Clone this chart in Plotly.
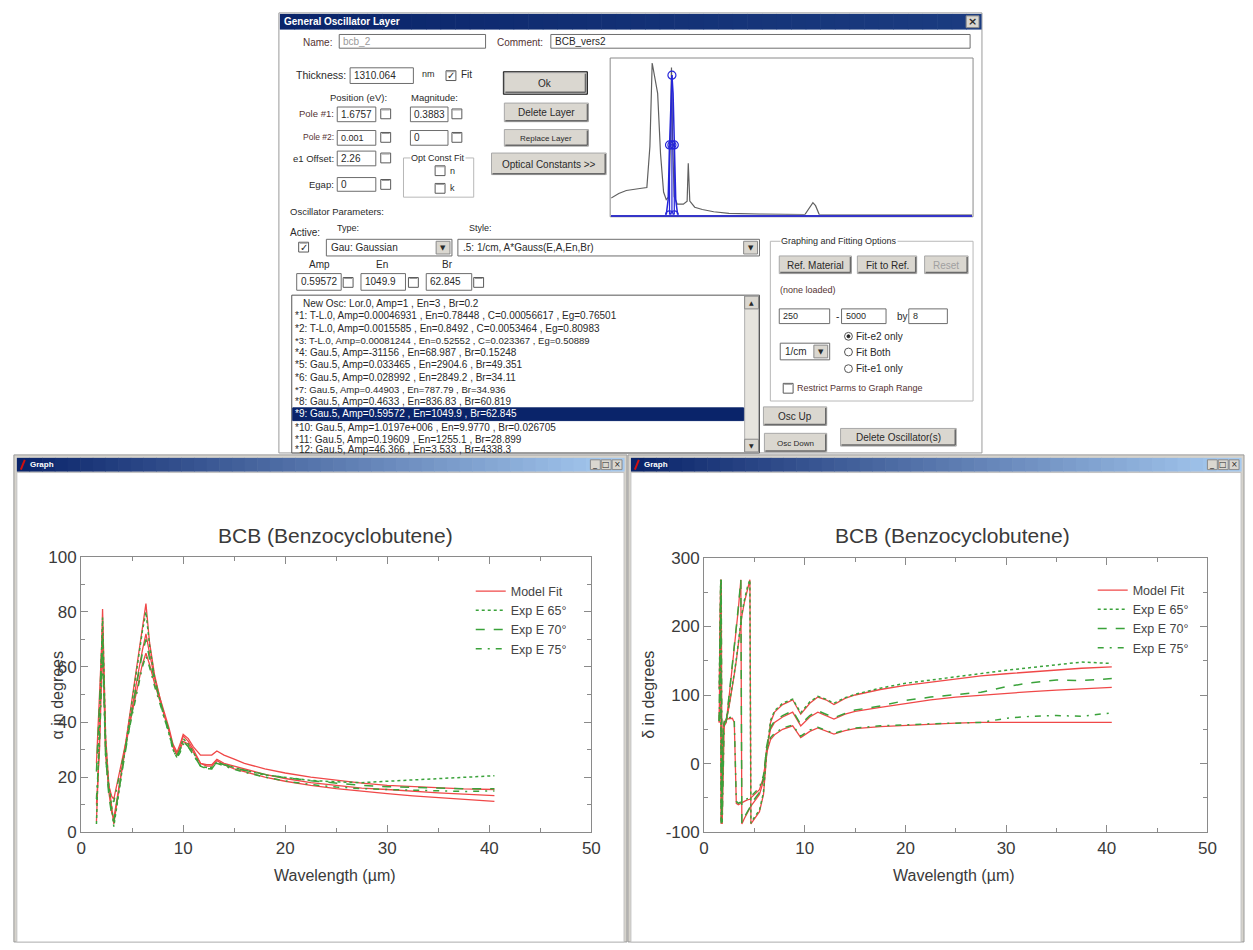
import plotly.graph_objects as go

# ---------------- data ----------------
# Psi (alpha) spectra, wavelength in micrometres
wl_psi = [1.5, 1.8, 2.1, 2.4, 2.7, 3.0, 3.2, 3.6, 4.0, 4.5, 5.0, 5.5, 6.0, 6.35,
          6.7, 7.2, 7.7, 8.1, 8.6, 9.0, 9.4, 9.7, 10.0, 10.5, 11.0, 11.7, 12.3,
          12.8, 13.3, 14.0, 15.0, 16.0, 18.0, 20.0, 22.5, 25.0, 27.5, 30.0, 32.5,
          35.0, 37.5, 40.5]
psi_fit_65 = [4, 35, 81, 35, 18, 10, 3, 13, 23, 36, 49, 62, 74, 83, 69, 57, 49, 43, 37, 31, 28,
              31, 35, 33, 30, 25, 24.5, 24.5, 26.5, 25, 24, 23, 21, 19.5, 18, 17, 16, 15.5,
              14.8, 14.3, 13.8, 13.3]
psi_fit_70 = [25, 50, 75, 30, 15, 7, 5, 14, 23, 34, 45, 56, 66, 72, 65, 56, 49, 44, 38, 32, 29,
              32, 35.5, 34, 31, 28, 28, 28, 29.5, 28, 26.5, 25, 23, 21.5, 20, 18.8, 17.8, 17,
              16.5, 16, 15.7, 15.5]
psi_fit_75 = [10, 30, 68, 28, 17, 13, 12, 19, 26, 35, 44, 53, 61, 65, 61, 54, 48, 43, 37, 31, 28,
              30, 33, 32, 29, 25, 24, 24, 26, 24.5, 23, 22, 20, 18.5, 17, 15.8, 14.8, 14, 13.2,
              12.5, 11.8, 11.2]
psi_exp_65 = [3, 38, 78, 33, 17, 9, 2, 12, 22, 35, 48, 61, 73, 80, 68, 56, 48, 42, 36, 30, 27,
              30, 34, 32, 29, 24, 23.5, 23.5, 25.5, 24.5, 23.5, 22.5, 20.8, 19.8, 18.8, 18.3,
              18, 18.5, 19, 19.3, 19.8, 20.5]
psi_exp_70 = [22, 48, 72, 28, 14, 6, 4, 13, 22, 33, 44, 55, 65, 70, 63, 55, 48, 43, 37, 31, 28,
              30, 33, 31, 28, 24, 23, 23, 25.5, 24.5, 23.5, 22.5, 21, 19.8, 18.7, 17.8, 17,
              16.5, 16.2, 16, 15.8, 15.8]
psi_exp_75 = [12, 32, 66, 27, 16, 12, 11, 18, 25, 34, 43, 52, 60, 64, 60, 53, 47, 42, 36, 30, 27,
              29, 32, 31, 28, 24, 23, 23, 25, 24, 22.8, 21.8, 20, 18.6, 17.3, 16.4, 15.8, 15.5,
              15.2, 15, 14.8, 15]

# Delta spectra (phase wraps at 270 -> -90)
wl_del = [1.5, 1.6, 1.65, 1.7, 1.8, 1.85, 1.9, 2.0, 2.2, 2.5, 2.8, 3.0, 3.2, 3.4, 3.65,
          3.75, 4.0, 4.3, 4.55, 4.65, 5.0, 5.5, 5.9, 6.2, 6.6, 7.0, 7.8, 8.8, 9.6, 10.5,
          11.3, 12.1, 12.9, 14.0, 15.0, 17.5, 20.0, 22.5, 25.0, 27.5, 30.0, 32.5, 35.0,
          37.5, 40.5]
del_fit_65 = [110, 200, 268, -85, -40, 20, 55, 60, 62, 85, 110, 130, 150, 175, 205, 215, 235,
              255, 268, -88, -80, -70, -45, 10, 60, 75, 86, 93, 72, 88, 97, 93, 86, 95, 100,
              108, 114, 119, 124, 128, 131, 134, 137, 139, 141]
del_fit_70 = [60, 180, 268, -88, -50, 0, 40, 55, 60, 100, 140, 170, 195, 225, 268, -88, -80,
              -72, -65, -62, -55, -45, -25, 20, 50, 60, 68, 75, 55, 68, 75, 70, 65, 72, 76,
              82, 88, 93, 97, 100, 103, 105, 107, 109, 111]
del_fit_75 = [60, 120, 200, 268, -88, -40, 30, 60, 65, 65, 66, 60, -58, -60, -58, -56, -55,
              -53, -52, -50, -45, -38, -20, 15, 35, 42, 50, 55, 38, 47, 52, 47, 43, 48, 51,
              54, 56, 58, 59, 60, 60, 60, 60, 60, 60]
del_exp_65 = [108, 205, 268, -86, -42, 18, 52, 58, 63, 87, 112, 132, 152, 178, 207, 218, 238,
              257, 268, -87, -78, -68, -42, 14, 63, 77, 88, 94, 74, 90, 98, 94, 88, 96, 101,
              110, 117, 122, 127, 131, 136, 140, 144, 148, 146]
del_exp_70 = [62, 185, 268, -87, -48, 3, 43, 57, 62, 102, 142, 172, 197, 228, 268, -87, -78,
              -70, -63, -60, -52, -42, -22, 24, 53, 62, 70, 77, 57, 70, 77, 72, 67, 73, 78,
              84, 92, 97, 101, 104, 112, 118, 122, 121, 124]
del_exp_75 = [62, 125, 205, 268, -86, -38, 33, 62, 66, 67, 68, 62, -55, -58, -56, -54, -53,
              -51, -50, -48, -43, -35, -17, 18, 38, 44, 52, 56, 40, 49, 53, 48, 44, 49, 52,
              55, 57, 58, 59, 60, 66, 69, 70, 69, 74]

delta_ticks = [-100, 0, 100, 200, 300]
delta_tick_text = ["-100", "0", "100", "200", "300"]

# oscillator preview (wavenumber 1/cm, relative eps2)
spec_wn = [250, 350, 450, 550, 650, 720, 760, 790, 805, 830, 862, 900, 940, 975, 1010, 1030,
           1044, 1058, 1080, 1120, 1200, 1250, 1265, 1285, 1350, 1450, 1600, 1800, 2200,
           2800, 2870, 2905, 2940, 2990, 5000]
spec_val = [0.11, 0.14, 0.16, 0.17, 0.175, 0.18, 0.45, 1.0, 0.96, 0.88, 0.8, 0.4, 0.15, 0.1,
            0.12, 0.5, 0.97, 0.5, 0.12, 0.07, 0.07, 0.09, 0.34, 0.09, 0.05, 0.035, 0.02,
            0.01, 0.004, 0.002, 0.06, 0.08, 0.06, 0.0, 0.0]
osc_wn = [975, 1000, 1018, 1035, 1049.9, 1065, 1081, 1100, 1125]
osc_val = [0.0, 0.1, 0.45, 0.8, 0.92, 0.8, 0.45, 0.1, 0.0]
osc_handle_wn = [1049.9, 1018, 1049.9, 1081, 1018, 1081]
osc_handle_val = [0.92, 0.46, 0.46, 0.46, 0.0, 0.0]
osc_guide_wn = [1018, 1018, None, 1081, 1081, None, 1049.9, 1049.9, None, 1018, 1081]
osc_guide_val = [0, 0.46, None, 0, 0.46, None, 0, 0.92, None, 0.46, 0.46]

osc_rows = [
    "New Osc: Lor.0, Amp=1 , En=3 , Br=0.2",
    "*1: T-L.0, Amp=0.00046931 , En=0.78448 , C=0.00056617 , Eg=0.76501",
    "*2: T-L.0, Amp=0.0015585 , En=0.8492 , C=0.0053464 , Eg=0.80983",
    "*3: T-L.0, Amp=0.00081244 , En=0.52552 , C=0.023367 , Eg=0.50889",
    "*4: Gau.5, Amp=-31156 , En=68.987 , Br=0.15248",
    "*5: Gau.5, Amp=0.033465 , En=2904.6 , Br=49.351",
    "*6: Gau.5, Amp=0.028992 , En=2849.2 , Br=34.11",
    "*7: Gau.5, Amp=0.44903 , En=787.79 , Br=34.936",
    "*8: Gau.5, Amp=0.4633 , En=836.83 , Br=60.819",
    "*9: Gau.5, Amp=0.59572 , En=1049.9 , Br=62.845",
    "*10: Gau.5, Amp=1.0197e+006 , En=9.9770 , Br=0.026705",
    "*11: Gau.5, Amp=0.19609 , En=1255.1 , Br=28.899",
    "*12: Gau.5, Amp=46.366 , En=3.533 , Br=4338.3",
]

# ---------------- page helpers (pixel -> paper) ----------------
W, H = 1253, 950
UI = "Liberation Sans"
FONT = "Liberation Sans"


def fx(x):
    return x / W


def fy(y):
    return 1 - y / H


shapes, notes = [], []


def rect(x0, y0, x1, y1, fill="white", line="#808080", lw=1, layer="below"):
    shapes.append(dict(type="rect", xref="paper", yref="paper",
                       x0=fx(x0), x1=fx(x1), y0=fy(y1), y1=fy(y0),
                       fillcolor=fill, line=dict(color=line, width=lw), layer=layer))


def seg(x0, y0, x1, y1, color="#808080", lw=1, layer="below"):
    shapes.append(dict(type="line", xref="paper", yref="paper",
                       x0=fx(x0), x1=fx(x1), y0=fy(y0), y1=fy(y1),
                       line=dict(color=color, width=lw), layer=layer))


def circ(x0, y0, x1, y1, fill="white", line="#555", lw=1):
    shapes.append(dict(type="circle", xref="paper", yref="paper",
                       x0=fx(x0), x1=fx(x1), y0=fy(y1), y1=fy(y0),
                       fillcolor=fill, line=dict(color=line, width=lw), layer="below"))


def label(x, y, s, size=10, color="#2a2a2a", anchor="left", bold=False, family=UI,
          bg=None, angle=0):
    if bold:
        s = "<b>" + s + "</b>"
    d = dict(xref="paper", yref="paper", x=fx(x), y=fy(y), text=s, showarrow=False,
             xanchor=anchor, yanchor="middle", borderpad=0, textangle=angle,
             font=dict(size=size, color=color, family=family))
    if bg:
        d["bgcolor"] = bg
    notes.append(d)


def mix(c0, c1, t):
    a = [int(c0[i:i + 2], 16) for i in (1, 3, 5)]
    b = [int(c1[i:i + 2], 16) for i in (1, 3, 5)]
    return "#%02x%02x%02x" % tuple(round(a[k] + (b[k] - a[k]) * t) for k in range(3))


def hgrad(x0, y0, x1, y1, c0, c1, n=48):
    step = (x1 - x0) / n
    for i in range(n):
        col = mix(c0, c1, i / (n - 1))
        shapes.append(dict(type="rect", xref="paper", yref="paper",
                           x0=fx(x0 + i * step), x1=fx(x0 + (i + 1) * step + 0.6),
                           y0=fy(y1), y1=fy(y0), fillcolor=col,
                           line=dict(width=0), layer="below"))


def button(x0, y0, x1, y1, s, size=10, color="#2a2a2a", strong=False):
    if strong:
        rect(x0 - 1, y0 - 1, x1 + 1, y1 + 1, fill="#333333", line="#222222")
    rect(x0, y0, x1, y1, fill="#DAD7D0", line="#A8A8A8")
    seg(x0 + 1, y1 - 1, x1 - 1, y1 - 1, "#6a6a6a", 1.5)
    seg(x1 - 1, y0 + 1, x1 - 1, y1 - 1, "#6a6a6a", 1.5)
    label((x0 + x1) / 2, (y0 + y1) / 2 + 0.5, s, size, color, anchor="center")


def field(x0, y0, x1, y1, s, color="#2a2a2a", size=10):
    rect(x0, y0, x1, y1, fill="white", line="#6d6d6d")
    label(x0 + 3, (y0 + y1) / 2, s, size, color)


def check(x, y, on=False):
    rect(x, y, x + 10, y + 10, fill="white", line="#5a5a5a")
    seg(x + 1, y + 1, x + 9, y + 1, "#9a9a9a")
    if on:
        label(x + 5, y + 5, "✓", size=10, anchor="center", bold=True, family="DejaVu Sans")


def combo(x0, y0, x1, y1, s):
    rect(x0, y0, x1, y1, fill="white", line="#6d6d6d")
    rect(x1 - 16, y0 + 2, x1 - 2, y1 - 2, fill="#DAD7D0", line="#8a8a8a")
    label(x1 - 9, (y0 + y1) / 2, "▼", size=7, anchor="center", family="DejaVu Sans")
    label(x0 + 4, (y0 + y1) / 2, s)


def radio(x, y, s, on=False):
    circ(x - 4, y - 4, x + 4, y + 4)
    if on:
        circ(x - 1.5, y - 1.5, x + 1.5, y + 1.5, fill="#222", line="#222")
    label(x + 7, y, s, size=10)


def group(x0, y0, x1, y1, title, tx):
    rect(x0, y0, x1, y1, fill="rgba(0,0,0,0)", line="#b8b8b8")
    label(tx, y0, title, size=9, bg="white")


# ---------------- oscillator dialog ----------------
rect(277, 4, 988, 453, fill="white", line="#9a9a9a")
hgrad(278, 5, 987, 21, "#0a246a", "#1b3c80")
label(281, 13, "General Oscillator Layer", size=10, color="white", bold=True)
rect(972, 7, 985, 19, fill="#DAD7D0", line="#888")
label(978.5, 13, "×", size=11, anchor="center", bold=True, family="DejaVu Sans")

label(300, 34, "Name:", color="#553333")
field(338, 26, 486, 40, "bcb_2", color="#9a9a9a")
label(497, 34, "Comment:", color="#553333")
field(552, 26, 976, 40, "BCB_vers2")

label(346, 67, "Thickness:", size=10.5, anchor="right")
field(349, 60, 413, 76, "1310.064")
label(421, 66, "nm", size=9)
check(446, 63, on=True)
label(460, 67, "Fit", size=10)

label(328, 90, "Position (eV):", size=9.5)
label(410, 90, "Magnitude:", size=9.5)
label(334, 107, "Pole #1:", size=9.5, color="#553333", anchor="right")
field(336, 100, 375, 115, "1.6757")
check(380, 102)
field(410, 100, 448, 115, "0.3883")
check(452, 102)
label(334, 131, "Pole #2:", size=8.5, color="#553333", anchor="right")
field(336, 124, 375, 139, "0.001", size=9)
check(380, 126)
field(410, 124, 448, 139, "0")
check(452, 126)
label(334, 153, "e1 Offset:", size=9.5, anchor="right")
field(336, 145, 375, 160, "2.26")
check(380, 147)
label(334, 179, "Egap:", size=9.5, anchor="right")
field(336, 172, 375, 186, "0")
check(380, 174)
group(403, 152, 474, 192, "Opt Const Fit", 410)
check(435, 160, False)
label(449, 165, "n", size=9)
check(435, 178, False)
label(449, 183, "k", size=9)
label(287, 207, "Oscillator Parameters:", size=9.5)

button(505, 65, 588, 86, "Ok", strong=True)
button(505, 96, 590, 115, "Delete Layer")
button(505, 123, 590, 140, "Replace Layer", size=8)
button(492, 147, 608, 169, "Optical Constants >>")

# preview panel frame
rect(612, 50, 979, 212, fill="white", line="#8a8a8a")

label(287, 228, "Active:")
label(335, 223, "Type:", size=9)
label(468, 223, "Style:", size=9)
check(297, 238, on=True)
combo(325, 235, 452, 252, "Gau: Gaussian")
combo(458, 235, 763, 252, ".5: 1/cm, A*Gauss(E,A,En,Br)")
label(318, 261, "Amp", anchor="center")
label(381, 261, "En", anchor="center")
label(448, 261, "Br", anchor="center")
field(295, 270, 340, 287, "0.59572")
check(342, 274)
field(360, 270, 405, 287, "1049.9")
check(408, 274)
field(426, 270, 472, 287, "62.845")
check(474, 274)

# oscillator list box
rect(290, 292, 763, 453, fill="white", line="#555")
rect(748, 293, 762, 452, fill="#e6e4de", line="#b0b0b0")
rect(748, 293, 762, 306, fill="#DAD7D0", line="#8a8a8a")
label(755, 299.5, "▲", size=6, anchor="center", family="DejaVu Sans")
rect(748, 439, 762, 452, fill="#DAD7D0", line="#8a8a8a")
label(755, 445.5, "▼", size=6, anchor="center", family="DejaVu Sans")
rect(291, 407, 747, 420, fill="#0a246a", line="#0a246a")
row_y = [300, 313, 326, 338, 350, 363, 376, 388, 401, 413, 427, 439, 450]
row_size = [10, 10, 10, 9.5, 10, 10, 10, 9.5, 10, 10, 10, 10, 10]
for i, (txt, yy) in enumerate(zip(osc_rows, row_y)):
    xx = 300 if i == 0 else 292
    col = "white" if i == 9 else "#2a2a2a"
    label(xx, yy, txt, size=row_size[i], color=col)

group(774, 237, 979, 400, "Graphing and Fitting Options", 784)
button(783, 252, 856, 270, "Ref. Material")
button(862, 252, 922, 270, "Fit to Ref.")
button(930, 252, 974, 270, "Reset", color="#a0a0a0")
label(783, 287, "(none loaded)", size=9, color="#553333")
field(783, 306, 834, 321, "250", size=9)
label(839, 314, "-")
field(846, 306, 891, 321, "5000", size=9)
label(901, 314, "by")
field(914, 306, 953, 321, "8", size=9)
radio(853, 334, "Fit-e2 only", on=True)
radio(853, 350, "Fit Both")
radio(853, 367, "Fit-e1 only")
combo(784, 341, 834, 358, "1/cm")
check(787, 382)
label(800, 387, "Restrict Parms to Graph Range", size=9, color="#553333")
button(767, 406, 831, 425, "Osc Up")
button(768, 433, 831, 452, "Osc Down", size=8)
button(845, 428, 962, 446, "Delete Oscillator(s)")


# ---------------- graph windows ----------------
def window(x0, x1):
    rect(x0, 455, x1, 952, fill="#D6D3CC", line="#9a9a9a")
    rect(x0 + 3, 473, x1 - 3, 952, fill="white", line="#c4c4c4")
    hgrad(x0 + 3, 458, x1 - 3, 472, "#0a246a", "#a6caf0")
    seg(x0 + 7, 470, x0 + 11, 460, "#d01010", 2)
    label(x0 + 15, 465, "Graph", size=8, color="white", bold=True)
    for k, sym in enumerate(["_", "□", "×"]):
        bx = x1 - 37 + k * 11
        rect(bx, 460, bx + 10, 470, fill="#DAD7D0", line="#8a8a8a")
        label(bx + 5, 465, sym, size=8, anchor="center", family="DejaVu Sans")


window(9, 629)
window(630, 1253)

# chart titles and axis titles
TXT = "#3a3a3a"
label(334, 537, "BCB (Benzocyclobutene)", size=21, color=TXT, anchor="center", family=FONT)
label(958, 537, "BCB (Benzocyclobutene)", size=21, color=TXT, anchor="center", family=FONT)
label(334, 884, "Wavelength (µm)", size=16, color=TXT, anchor="center", family=FONT)
label(960, 884, "Wavelength (µm)", size=16, color=TXT, anchor="center", family=FONT)
label(53, 700, "α in degrees", size=16, color=TXT, anchor="center", family=FONT, angle=-90)
label(650, 700, "δ in degrees", size=16, color=TXT, anchor="center", family=FONT, angle=-90)

# ---------------- traces ----------------
RED = "#f04848"
GREEN = "#3aa23a"
fig = go.Figure()

psi_fits = [psi_fit_65, psi_fit_70, psi_fit_75]
del_fits = [del_fit_65, del_fit_70, del_fit_75]
psi_exps = [psi_exp_65, psi_exp_70, psi_exp_75]
del_exps = [del_exp_65, del_exp_70, del_exp_75]
exp_names = ["Exp E 65°", "Exp E 70°", "Exp E 75°"]
exp_dash = ["dot", "dash", "6px,6px,2px,6px"]

for axes, leg, xs, fits, exps in [(("x", "y"), "legend", wl_psi, psi_fits, psi_exps),
                                  (("x2", "y2"), "legend2", wl_del, del_fits, del_exps)]:
    for k, ys in enumerate(fits):
        fig.add_trace(go.Scatter(x=xs, y=ys, xaxis=axes[0], yaxis=axes[1], mode="lines",
                                 name="Model Fit", legend=leg, legendgroup=leg + "fit",
                                 showlegend=(k == 0), line=dict(color=RED, width=1.3)))
    for k, ys in enumerate(exps):
        fig.add_trace(go.Scatter(x=xs, y=ys, xaxis=axes[0], yaxis=axes[1], mode="lines",
                                 name=exp_names[k], legend=leg,
                                 line=dict(color=GREEN, width=1.5, dash=exp_dash[k])))

# oscillator preview
fig.add_trace(go.Scatter(x=spec_wn, y=spec_val, xaxis="x3", yaxis="y3", mode="lines",
                         showlegend=False, line=dict(color="#606060", width=1.2)))
fig.add_trace(go.Scatter(x=osc_wn, y=osc_val, xaxis="x3", yaxis="y3", mode="lines",
                         showlegend=False, line=dict(color="#2626d9", width=1.5)))
fig.add_trace(go.Scatter(x=osc_guide_wn, y=osc_guide_val, xaxis="x3", yaxis="y3",
                         mode="lines", showlegend=False,
                         line=dict(color="#2626d9", width=1.2)))
fig.add_trace(go.Scatter(x=osc_handle_wn, y=osc_handle_val, xaxis="x3", yaxis="y3",
                         mode="markers", showlegend=False,
                         marker=dict(symbol="circle-open", size=8, color="#2626d9",
                                     line=dict(width=1.2))))

AX = "#8a8a8a"
TICKF = dict(size=17, color=TXT, family=FONT)


def xax(dom, anchor):
    return dict(domain=dom, anchor=anchor, range=[0, 50], tick0=0, dtick=10,
                ticks="inside", ticklen=7, tickcolor=AX, showline=True, linecolor=AX,
                mirror="ticks", showgrid=False, zeroline=False, tickfont=TICKF,
                minor=dict(dtick=5, tick0=0, ticks="inside", ticklen=4, tickcolor=AX,
                           showgrid=False))


LEGF = dict(size=12.5, color="#444", family=FONT)
fig.update_layout(
    width=W, height=H, margin=dict(l=0, r=0, t=0, b=0, pad=0),
    paper_bgcolor="white", plot_bgcolor="rgba(0,0,0,0)",
    xaxis=xax([fx(77), fx(593)], "y"),
    yaxis=dict(domain=[fy(840), fy(559)], anchor="x", range=[0, 100], tick0=0, dtick=20,
               ticks="inside", ticklen=7, tickcolor=AX, showline=True, linecolor=AX,
               mirror="ticks", showgrid=False, zeroline=False, tickfont=TICKF,
               minor=dict(dtick=10, tick0=0, ticks="inside", ticklen=4, tickcolor=AX,
                          showgrid=False)),
    xaxis2=xax([fx(707), fx(1216)], "y2"),
    yaxis2=dict(domain=[fy(840), fy(560)], anchor="x2", range=[-100, 300],
                tickmode="array", tickvals=delta_ticks, ticktext=delta_tick_text,
                ticks="inside", ticklen=7, tickcolor=AX, showline=True, linecolor=AX,
                mirror="ticks", showgrid=False, zeroline=False, tickfont=TICKF,
                minor=dict(tickmode="linear", dtick=50, tick0=0, ticks="inside", ticklen=4,
                           tickcolor=AX, showgrid=False)),
    xaxis3=dict(domain=[fx(613), fx(978)], anchor="y3", range=[250, 5000],
                showticklabels=False, ticks="", showgrid=False, zeroline=False,
                showline=True, linecolor="#3535c8", linewidth=2),
    yaxis3=dict(domain=[fy(210), fy(52)], anchor="x3", range=[0, 1.02],
                showticklabels=False, ticks="", showgrid=False, zeroline=False,
                showline=False),
    legend=dict(x=fx(471), y=fy(579), xanchor="left", yanchor="top",
                bgcolor="rgba(0,0,0,0)", font=LEGF, itemwidth=30, tracegroupgap=0),
    legend2=dict(x=fx(1100), y=fy(578), xanchor="left", yanchor="top",
                 bgcolor="rgba(0,0,0,0)", font=LEGF, itemwidth=30, tracegroupgap=0),
    shapes=shapes, annotations=notes,
)

fig.write_html("out.html")
